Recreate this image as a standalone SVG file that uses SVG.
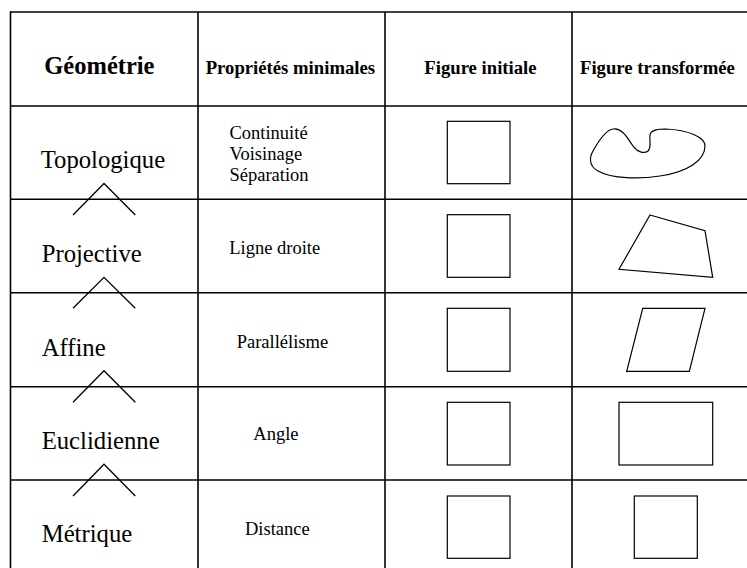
<svg xmlns="http://www.w3.org/2000/svg" width="747" height="568" viewBox="0 0 747 568">
<style>
.grid{stroke:#000;stroke-width:1.6;fill:none}
.shape{stroke:#000;stroke-width:1.2;fill:none}
.chev{stroke:#000;stroke-width:1.3;fill:none}
text{font-family:"Liberation Serif","Times New Roman",serif;fill:#000}
.hb{font-weight:bold;font-size:18.7px}
.hg{font-weight:bold;font-size:24.5px}
.big{font-size:24.7px}
.sm{font-size:18.5px}
</style>
<rect width="747" height="568" fill="#fff"/>
<g id="table">
<line class="grid" x1="10.5" y1="12" x2="747" y2="12"/>
<line class="grid" x1="10.5" y1="106" x2="747" y2="106"/>
<line class="grid" x1="10.5" y1="199.3" x2="747" y2="199.3"/>
<line class="grid" x1="10.5" y1="292.7" x2="747" y2="292.7"/>
<line class="grid" x1="10.5" y1="386.7" x2="747" y2="386.7"/>
<line class="grid" x1="10.5" y1="480" x2="747" y2="480"/>
<line class="grid" x1="10.5" y1="11.2" x2="10.5" y2="568"/>
<line class="grid" x1="198" y1="12" x2="198" y2="568"/>
<line class="grid" x1="385" y1="12" x2="385" y2="568"/>
<line class="grid" x1="572" y1="12" x2="572" y2="568"/>
</g>
<g id="header">
<text class="hg" x="44.3" y="74">Géométrie</text>
<text class="hb" x="205.7" y="74">Propriétés minimales</text>
<text class="hb" x="424.3" y="74">Figure initiale</text>
<text class="hb" x="580" y="74">Figure transformée</text>
</g>
<g id="topologique">
<text class="big" x="40.7" y="168">Topologique</text>
<text class="sm" x="229.5" y="138.5">Continuité</text>
<text class="sm" x="229.5" y="159.7">Voisinage</text>
<text class="sm" x="229.5" y="181">Séparation</text>
<rect class="shape" x="447.3" y="121.3" width="62.7" height="62.4"/>
<path class="shape" d="M613,129 C622,127 628,139 633,146 C637,152 644,154 648,151 C652,147 649,140 650,135 C651,130 657,129 666,129 C688,130 705,137 705,146 C705,160 688,172 660,176 C640,179 612,179 598,171 C589,166 589,158 593,151 C598,142 606,130 613,129 Z"/>
</g>
<g id="projective">
<text class="big" x="41.7" y="262">Projective</text>
<text class="sm" x="229.3" y="254">Ligne droite</text>
<rect class="shape" x="447.3" y="214.7" width="62.7" height="62.6"/>
<polygon class="shape" points="650,215 705,230.7 712.7,277.3 619,269.3"/>
</g>
<g id="affine">
<text class="big" x="41.7" y="356">Affine</text>
<text class="sm" x="236.7" y="347.7">Parallélisme</text>
<rect class="shape" x="447.3" y="308.3" width="62.7" height="63"/>
<polygon class="shape" points="642.7,308.3 705,308.3 689.3,371.3 626.7,371.3"/>
</g>
<g id="euclidienne">
<text class="big" x="41.7" y="449">Euclidienne</text>
<text class="sm" x="253.3" y="440">Angle</text>
<rect class="shape" x="447.3" y="402.3" width="62.7" height="62.7"/>
<rect class="shape" x="619" y="402.3" width="93.7" height="62.7"/>
</g>
<g id="metrique">
<text class="big" x="41.7" y="542.3">Métrique</text>
<text class="sm" x="245" y="535">Distance</text>
<rect class="shape" x="447.3" y="496" width="62.7" height="62.3"/>
<rect class="shape" x="634.3" y="496" width="63" height="62.3"/>
</g>
<g id="connectors">
<polyline class="chev" points="73,215 104,183.5 135.3,215"/>
<polyline class="chev" points="73,308.3 104,277.3 135.3,308.3"/>
<polyline class="chev" points="73,402.3 104,370.7 135.3,402.3"/>
<polyline class="chev" points="73,496 104,464.3 135.3,496"/>
</g>
</svg>
